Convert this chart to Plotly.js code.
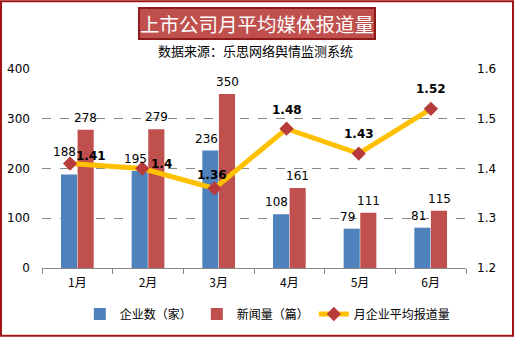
<!DOCTYPE html>
<html><head><meta charset="utf-8">
<script src="https://cdn.plot.ly/plotly-3.0.1.min.js"></script>
<style>body{margin:0;padding:0;background:#fff}#chart{width:515px;height:339px}</style>
</head><body><div id="chart"></div>
<script>
const categories = ['1月','2月','3月','4月','5月','6月'];
const companies = [188, 195, 236, 108, 79, 81];
const news = [278, 279, 350, 161, 111, 115];
const avgReports = [1.41, 1.4, 1.36, 1.48, 1.43, 1.52];
const seriesNames = ['企业数（家）', '新闻量（篇）', '月企业平均报道量'];
const titleText = '上市公司月平均媒体报道量';
const subtitleText = '数据来源：乐思网络舆情监测系统';

const CJK = '"Noto Sans CJK SC", "DejaVu Sans", sans-serif';
const NUM = '"DejaVu Sans", "Noto Sans CJK SC", sans-serif';

const traces = [
  {type:'bar', x:categories, y:companies, name:seriesNames[0], marker:{color:'#4F81BD'}, xaxis:'x', yaxis:'y'},
  {type:'bar', x:categories, y:news, name:seriesNames[1], marker:{color:'#C0504D'}, xaxis:'x', yaxis:'y'},
  {type:'scatter', mode:'lines+markers', x:categories, y:avgReports, name:seriesNames[2],
   line:{color:'#FFC000', width:5}, marker:{symbol:'diamond', size:11, color:'#B83B3B'},
   xaxis:'x2', yaxis:'y2'}
];

const annotations = [];
const blueShift = [[-4,22],[-4,12],[-4,12],[-4,12],[-4,12],[-4,12]];
companies.forEach((v,i)=>annotations.push({x:categories[i], y:v, xref:'x', yref:'y', text:String(v), showarrow:false,
  xshift:blueShift[i][0]-8.5, yshift:blueShift[i][1], font:{family:NUM, size:12, color:'#000'}}));
news.forEach((v,i)=>annotations.push({x:categories[i], y:v, xref:'x', yref:'y', text:String(v), showarrow:false,
  xshift:8.5, yshift:12, font:{family:NUM, size:12, color:'#000'}}));
const lineShift = [[21,8],[19,5],[-2,13],[0,19],[0,20],[0,20]];
avgReports.forEach((v,i)=>annotations.push({x:categories[i], y:v, xref:'x2', yref:'y2', text:'<b>'+v+'</b>', showarrow:false,
  xshift:lineShift[i][0], yshift:lineShift[i][1], font:{family:NUM, size:12, color:'#000'}}));
annotations.push({xref:'paper', yref:'paper', x:0.515, y:1.23, text:titleText, showarrow:false,
  font:{family:CJK, size:19.5, color:'#fff'}, bgcolor:'#C0504D', bordercolor:'#8E1B1B', borderwidth:2, borderpad:0,
  xanchor:'center', yanchor:'middle'});
annotations.push({xref:'paper', yref:'paper', x:0.512, y:1.095, text:subtitleText, showarrow:false,
  font:{family:CJK, size:13, color:'#000'}, xanchor:'center', yanchor:'middle'});

const layout = {
  width:515, height:339,
  margin:{l:34, r:48, t:69, b:70},
  paper_bgcolor:'#fff', plot_bgcolor:'rgba(0,0,0,0)',
  showlegend:true,
  barmode:'group', bargap:0.53, bargroupgap:0.03,
  xaxis:{domain:[0.0185,0.9977], anchor:'y', type:'category', showgrid:false, showline:true, linecolor:'#888', linewidth:1,
    ticks:'outside', ticklen:5, tickcolor:'#888', tickson:'boundaries', tickfont:{family:CJK, size:12, color:'#000'}, ticklabelstandoff:4},
  xaxis2:{domain:[0,1], anchor:'y2', type:'category', visible:false, range:[-0.5,5.5], showgrid:false, zeroline:false},
  yaxis:{range:[0,400], dtick:100, anchor:'x', showline:false, zeroline:false, showgrid:true, gridcolor:'#888', griddash:'dash', gridwidth:1,
    tickfont:{family:NUM, size:12, color:'#000'}, ticklabelstandoff:11},
  yaxis2:{range:[1.2,1.6], dtick:0.1, anchor:'x', overlaying:'y', side:'right', showgrid:false, zeroline:false, showline:false,
    tickformat:'.1f', tickfont:{family:NUM, size:12, color:'#000'}, ticklabelstandoff:10},
  legend:{orientation:'h', x:0.54, xanchor:'center', y:-0.225, yanchor:'middle', font:{family:CJK, size:12, color:'#000'},
    bgcolor:'rgba(0,0,0,0)', itemwidth:30, tracegroupgap:0},
  annotations:annotations,
  shapes:[{type:'rect', xref:'paper', yref:'paper', x0:(1-34)/433, x1:(513-34)/433, y0:(269-337)/200, y1:(269-1)/200,
    line:{color:'#A31515', width:2}, fillcolor:'rgba(0,0,0,0)'}]
};

Plotly.newPlot('chart', traces, layout, {displayModeBar:false, staticPlot:true});
</script></body></html>
